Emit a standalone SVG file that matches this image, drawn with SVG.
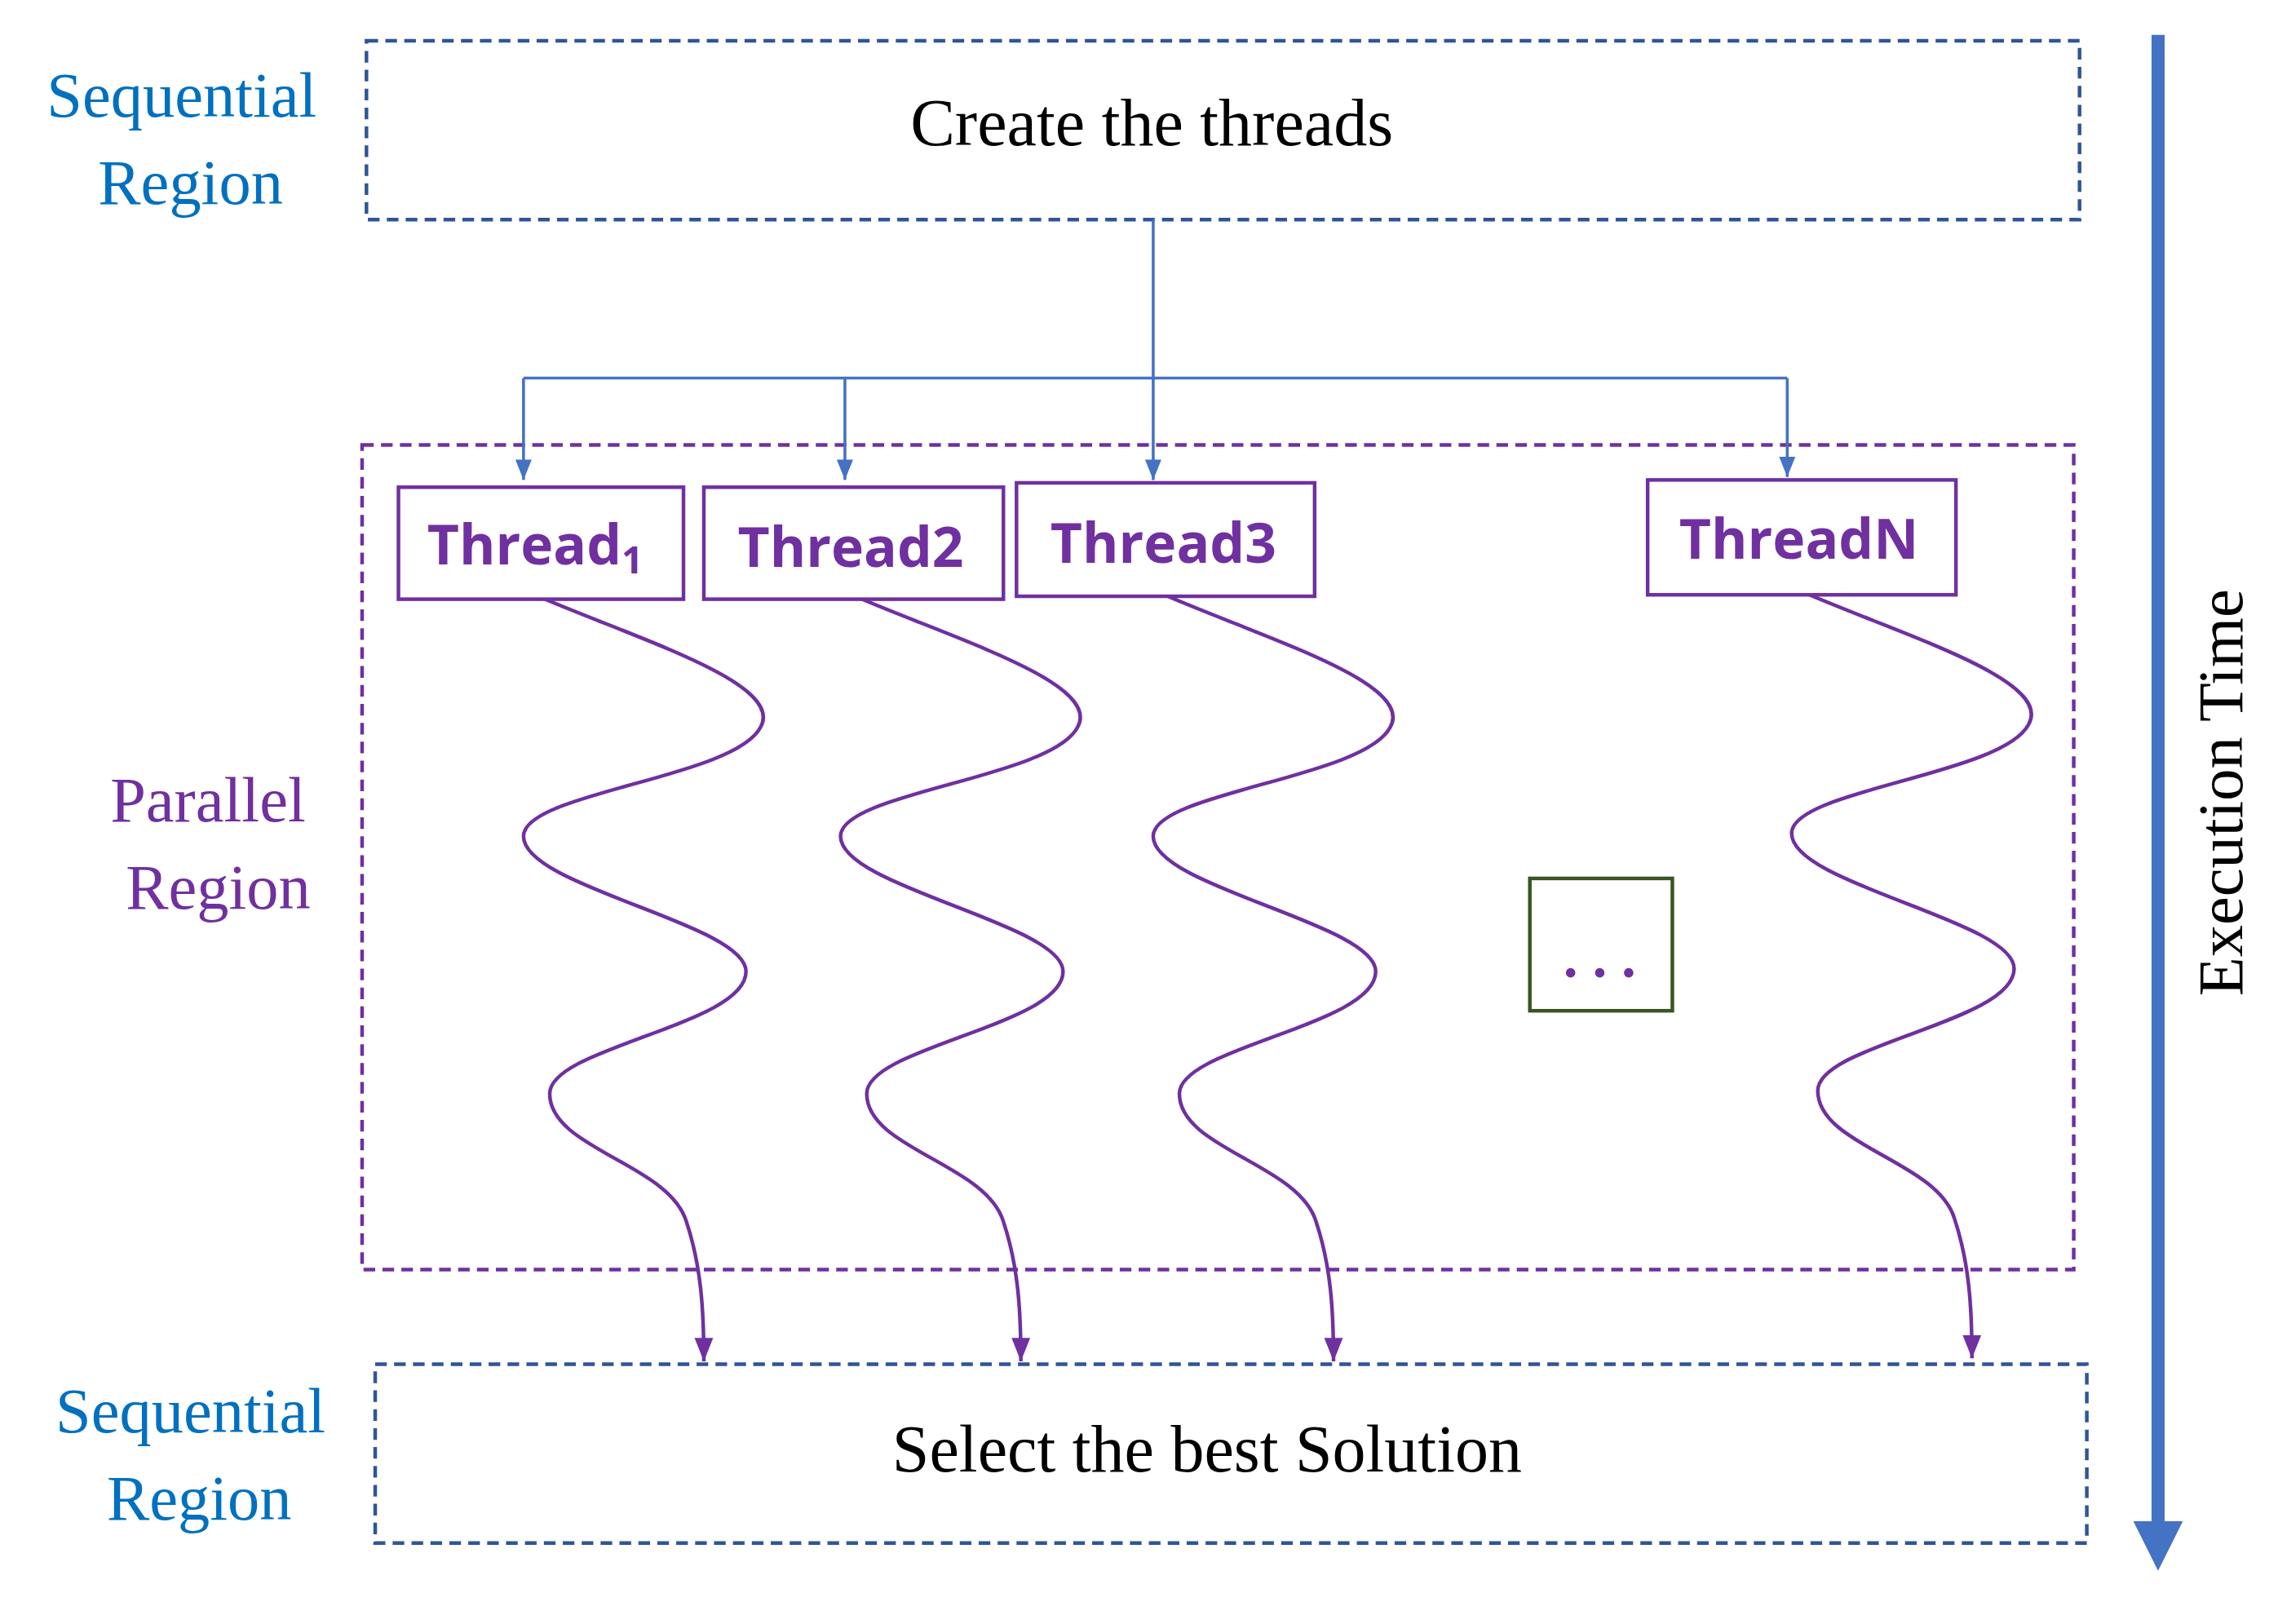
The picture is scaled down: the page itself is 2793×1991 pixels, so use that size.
<svg xmlns="http://www.w3.org/2000/svg" width="2793" height="1991" viewBox="0 0 2793 1991">
<defs>
<style>
.serif{font-family:"Liberation Serif","Times New Roman",serif}
.lbl{font-size:44px;text-anchor:middle}
.blue{fill:#0070C0}
.purp{fill:#7030A0}
.th{font-family:"Open Sans","Liberation Sans",sans-serif;font-weight:bold;font-size:38px;fill:#7030A0;text-anchor:middle}
.tbox{fill:#fff;stroke:#7030A0;stroke-width:2.5}
.wave{fill:none;stroke:#7030A0;stroke-width:2.5}
.conn{fill:none;stroke:#4472C4;stroke-width:2}
</style>
<marker id="ab" viewBox="0 0 10 10" refX="10" refY="5" markerWidth="14" markerHeight="14" markerUnits="userSpaceOnUse" orient="auto"><path d="M0,1 L10,5 L0,9 Z" fill="#4472C4"/></marker>
<marker id="ap" viewBox="0 0 10 10" refX="10" refY="5" markerWidth="16" markerHeight="16" markerUnits="userSpaceOnUse" orient="auto"><path d="M0,1 L10,5 L0,9 Z" fill="#7030A0"/></marker>
<path id="w" d="M370,410 C440,440 540,470 523,500 C505,535 360,545 360,575 C360,610 513,635 513,668 C513,705 378,720 378,752 C378,790 460,800 472,840 C482,870 484,900 484,936"/>
</defs>
<rect width="2793" height="1991" fill="#fff"/>
<g transform="scale(1.783,1.783)">
<g id="seq-top">
<rect x="252" y="28" width="1178" height="123" fill="none" stroke="#2F5597" stroke-width="2.5" stroke-dasharray="8,5"/>
<text class="serif" x="792" y="100" font-size="46" text-anchor="middle">Create the threads</text>
</g>
<g id="labels">
<text class="serif lbl blue" x="125" y="80">Sequential</text>
<text class="serif lbl blue" x="131" y="140">Region</text>
<text class="serif lbl purp" x="143" y="565">Parallel</text>
<text class="serif lbl purp" x="150" y="625">Region</text>
<text class="serif lbl blue" x="131" y="985">Sequential</text>
<text class="serif lbl blue" x="137" y="1045">Region</text>
</g>
<g id="parallel">
<rect x="249" y="306" width="1177" height="567" fill="none" stroke="#7030A0" stroke-width="2.5" stroke-dasharray="8,5"/>
</g>
<g id="connectors">
<path class="conn" d="M793,151 V330" marker-end="url(#ab)"/>
<path class="conn" d="M360,260 H1229"/>
<path class="conn" d="M360,260 V330" marker-end="url(#ab)"/>
<path class="conn" d="M581,260 V330" marker-end="url(#ab)"/>
<path class="conn" d="M1229,260 V328" marker-end="url(#ab)"/>
<use href="#w" class="wave" marker-end="url(#ap)"/>
<use href="#w" class="wave" transform="translate(218,0)" marker-end="url(#ap)"/>
<use href="#w" class="wave" transform="translate(433,0)" marker-end="url(#ap)"/>
<use href="#w" class="wave" transform="translate(872,-2)" marker-end="url(#ap)"/>
</g>
<g id="t1"><rect class="tbox" x="274" y="335" width="196" height="77"/><text class="th" x="368" y="388">Thread<tspan font-size="26" dy="6">1</tspan></text></g>
<g id="t2"><rect class="tbox" x="484" y="335" width="206" height="77"/><text class="th" x="585" y="390">Thread2</text></g>
<g id="t3"><rect class="tbox" x="699" y="332" width="205" height="78"/><text class="th" x="800" y="387">Thread3</text></g>
<g id="tn"><rect class="tbox" x="1133" y="330" width="212" height="79"/><text class="th" x="1237" y="384">ThreadN</text></g>
<g id="dots"><rect x="1052" y="604" width="98" height="91" fill="#fff" stroke="#375623" stroke-width="2.5"/><text class="serif purp" x="1100" y="672" font-size="40" font-weight="bold" text-anchor="middle">. . .</text></g>
<g id="seq-bottom">
<rect x="258" y="938" width="1177" height="123" fill="none" stroke="#2F5597" stroke-width="2.5" stroke-dasharray="8,5"/>
<text class="serif" x="830" y="1012" font-size="46" text-anchor="middle">Select the best Solution</text>
</g>
<g id="time">
<path d="M1484,24 V1050" stroke="#4472C4" stroke-width="9"/>
<path d="M1467,1046 L1501,1046 L1484,1080 Z" fill="#4472C4"/>
<text class="serif" x="1542" y="545" font-size="44" text-anchor="middle" transform="rotate(-90 1542 545)">Execution Time</text>
</g>
</g>
</svg>
